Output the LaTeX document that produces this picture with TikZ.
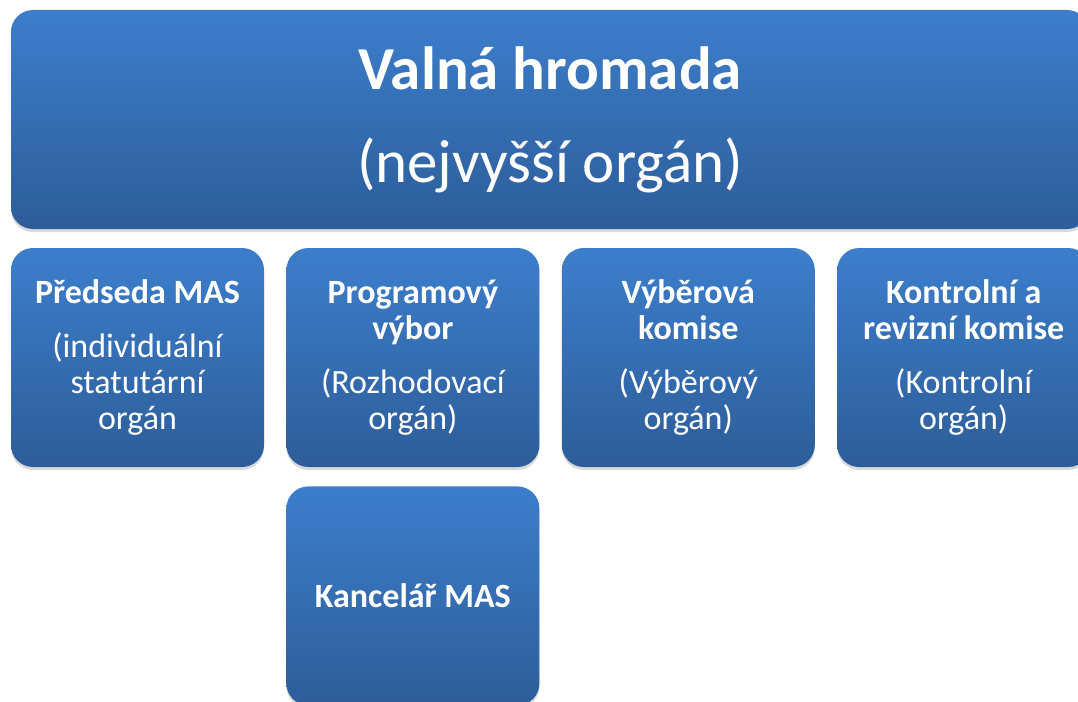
\documentclass[tikz,border=0pt]{standalone}
\usepackage{fontspec}
\setmainfont{Carlito}
\usetikzlibrary{shadows,positioning}
\definecolor{boxtop}{RGB}{60,126,204}
\definecolor{boxbot}{RGB}{45,93,153}
\newcommand{\headfont}{\fontsize{61}{64}\selectfont}
\newcommand{\boxfont}{\fontsize{34}{36}\selectfont}
\tikzset{
  orgbox/.style={
    rounded corners=22pt,
    top color=boxtop,
    bottom color=boxbot,
    text=white,
    align=center,
    inner sep=0pt,
    minimum width=253pt,
    minimum height=219pt,
    font=\boxfont,
    drop shadow={shadow xshift=0pt, shadow yshift=-3pt, opacity=0.3}
  }
}

\begin{document}
\begin{tikzpicture}[x=1pt,y=-1pt]
\useasboundingbox (0,0) rectangle (1078,701);
\clip (0,0) rectangle (1078,701);
\node[orgbox, minimum width=1078pt, minimum height=219pt, font=\headfont] (hromada) at (550,119.5)
  {\textbf{Valná hromada}\\[29pt](nejvyšší orgán)};
\node[orgbox] (predseda) at (137.5,357.5)
  {\textbf{Předseda MAS}\\[18pt](individuální\\statutární\\orgán};
\node[orgbox, right=22pt of predseda] (program)
  {\textbf{Programový}\\\textbf{výbor}\\[18pt](Rozhodovací\\orgán)};
\node[orgbox, right=22pt of program] (vyber)
  {\textbf{Výběrová}\\\textbf{komise}\\[18pt](Výběrový\\orgán)};
\node[orgbox, right=22pt of vyber] (kontrola)
  {\textbf{Kontrolní a}\\\textbf{revizní komise}\\[18pt](Kontrolní\\orgán)};
\node[orgbox, below=19pt of program] (kancelar) {\textbf{Kancelář MAS}};
\end{tikzpicture}
\end{document}
